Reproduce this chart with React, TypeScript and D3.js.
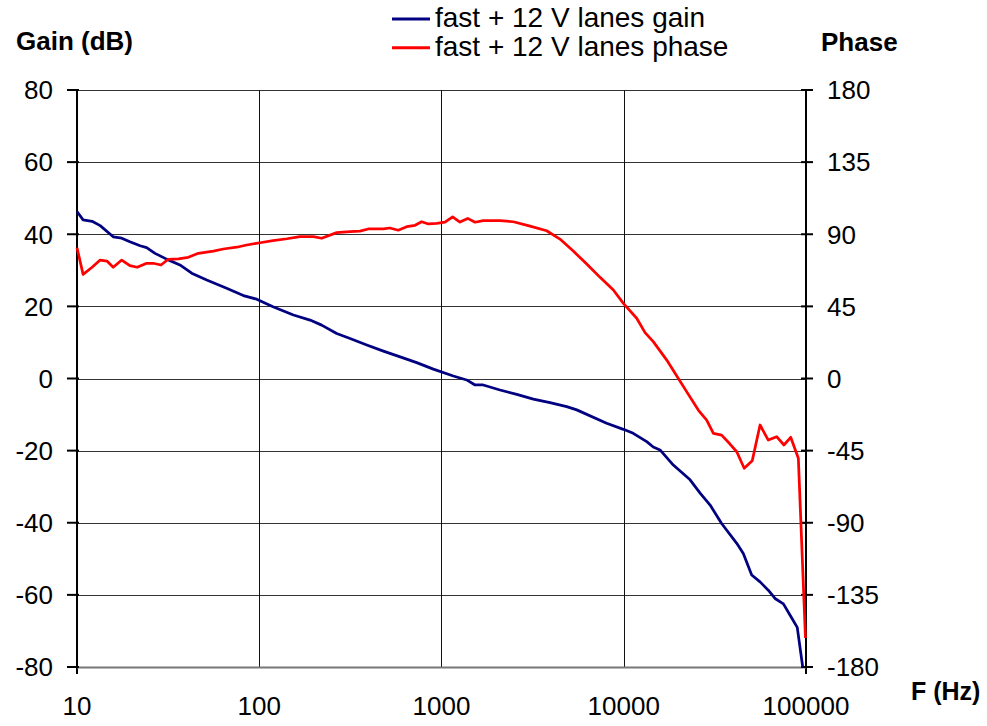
import React from "react";
import * as d3 from "d3";

const gainFreq = [10, 10.8, 12.1, 13.4, 15.8, 17.6, 19.5, 22.2, 24.1, 26.8, 31.0, 36.7, 42.6, 51.5, 66.2, 81.8, 96.8, 119, 154, 190, 220, 266, 315, 389, 480, 593, 731, 902, 1161, 1374, 1528, 1694, 2094, 2588, 3192, 3936, 4864, 5521, 8054, 9954, 11272, 13366, 14521, 15812, 18707, 23121, 26242, 29785, 34435, 41687, 45290, 50350, 55976, 62087, 67608, 75162, 81658, 89536, 95940];
const gainDb = [46.3, 44.0, 43.6, 42.4, 39.3, 38.9, 37.9, 36.8, 36.3, 34.7, 33.1, 31.5, 29.2, 27.3, 25.0, 23.0, 22.0, 19.9, 17.6, 16.2, 14.8, 12.5, 11.1, 9.3, 7.6, 6.0, 4.4, 2.6, 0.7, -0.4, -1.8, -1.8, -3.2, -4.4, -5.7, -6.7, -7.8, -8.7, -12.4, -14.1, -15.2, -17.5, -19.0, -19.8, -24.0, -28.1, -31.8, -35.1, -40.2, -45.7, -48.5, -54.5, -56.4, -58.7, -61.0, -62.5, -65.6, -69.0, -80.0];

const phaseFreq = [10, 10.8, 12.1, 13.4, 14.6, 15.8, 17.6, 19.5, 21.4, 24.1, 26.2, 28.9, 31.7, 36.0, 40.8, 46.3, 56.0, 63.5, 75.2, 85.3, 101, 119, 142, 167, 198, 220, 266, 315, 357, 396, 480, 521, 579, 644, 716, 778, 847, 942, 1045, 1151, 1262, 1393, 1528, 1694, 2094, 2477, 3062, 3776, 4467, 5284, 6266, 7413, 8770, 9954, 11776, 13092, 14521, 17219, 19543, 22131, 25645, 28510, 31046, 34435, 38282, 41687, 45814, 50699, 55976, 62087, 69024, 75683, 82414, 90782, 99312];
const phaseDeg = [81.6, 65.0, 69.4, 73.9, 73.3, 69.4, 73.9, 70.4, 69.4, 71.9, 71.9, 70.8, 74.4, 74.7, 75.6, 78.1, 79.5, 80.8, 81.9, 83.3, 84.7, 86.0, 87.2, 88.5, 88.5, 87.5, 91.0, 91.6, 92.0, 93.3, 93.3, 93.9, 92.5, 94.7, 95.6, 97.8, 96.4, 96.8, 97.5, 100.8, 97.6, 99.9, 97.5, 98.5, 98.5, 97.8, 95.1, 92.2, 87.0, 79.5, 71.4, 63.1, 55.2, 46.9, 37.6, 28.6, 23.0, 11.5, 1.6, -8.2, -19.7, -25.9, -34.2, -35.3, -40.9, -45.7, -56.0, -51.3, -29.0, -38.4, -36.3, -41.5, -36.7, -49.8, -161.9];

const freqTicks = [10, 100, 1000, 10000, 100000];
const gainTicks = [80, 60, 40, 20, 0, -20, -40, -60, -80];
const phaseTicks = [180, 135, 90, 45, 0, -45, -90, -135, -180];

const seriesNames = ["fast + 12 V lanes gain", "fast + 12 V lanes phase"];
const seriesColors = ["#000080", "#ff0000"];

export default function App() {
  const left = 77, right = 806, top = 90, bottom = 667;
  const x = d3.scaleLog().domain([10, 100000]).range([left, right]);
  const yG = d3.scaleLinear().domain([-80, 80]).range([bottom, top]);
  const yP = d3.scaleLinear().domain([-180, 180]).range([bottom, top]);

  const gainLine = d3.line<number>().x((_, i) => x(gainFreq[i])).y((d) => yG(d));
  const phaseLine = d3.line<number>().x((_, i) => x(phaseFreq[i])).y((d) => yP(d));

  const font = "'Liberation Sans', Arial, sans-serif";
  const tickFs = 26;

  return (
    <div style={{ position: "absolute", left: 0, top: 0 }}>
      <svg width={987} height={726} style={{ display: "block", background: "#fff" }} fontFamily={font}>
        {/* horizontal grid */}
        {gainTicks.map((t) => (
          <line key={"hg" + t} x1={left} x2={right} y1={Math.round(yG(t)) + 0.5} y2={Math.round(yG(t)) + 0.5} stroke="#333" strokeWidth={1} />
        ))}
        {/* vertical grid */}
        {freqTicks.map((t) => (
          <line key={"vg" + t} x1={Math.round(x(t)) + 0.5} x2={Math.round(x(t)) + 0.5} y1={top} y2={bottom} stroke="#111" strokeWidth={1} />
        ))}
        {/* axes */}
        <line x1={left} x2={left} y1={top} y2={bottom + 7} stroke="#000" strokeWidth={2} />
        <line x1={right} x2={right} y1={top} y2={bottom + 7} stroke="#000" strokeWidth={2} />
        <line x1={left} x2={right} y1={bottom + 0.5} y2={bottom + 0.5} stroke="#777" strokeWidth={2} />
        {gainTicks.map((t) => (
          <g key={"lt" + t}>
            <line x1={left - 10} x2={left + 2} y1={yG(t)} y2={yG(t)} stroke="#000" strokeWidth={2} />
            <text x={53} y={yG(t)} dy="0.36em" textAnchor="end" fontSize={tickFs}>{t}</text>
          </g>
        ))}
        {phaseTicks.map((t) => (
          <g key={"rt" + t}>
            <line x1={right - 5} x2={right + 7} y1={yP(t)} y2={yP(t)} stroke="#000" strokeWidth={2} />
            <text x={827} y={yP(t)} dy="0.36em" textAnchor="start" fontSize={tickFs}>{t}</text>
          </g>
        ))}
        {freqTicks.map((t) => (
          <text key={"xt" + t} x={x(t)} y={715} textAnchor="middle" fontSize={tickFs}>{t}</text>
        ))}
        {/* series */}
        <path d={gainLine(gainDb) || ""} fill="none" stroke={seriesColors[0]} strokeWidth={2.75} strokeLinejoin="round" />
        <path d={phaseLine(phaseDeg) || ""} fill="none" stroke={seriesColors[1]} strokeWidth={2.75} strokeLinejoin="round" />
        {/* axis titles */}
        <text x={16} y={50} fontSize={26} fontWeight="bold">Gain (dB)</text>
        <text x={821} y={51} fontSize={26} fontWeight="bold">Phase</text>
        <text x={911} y={700} fontSize={25} fontWeight="bold">F (Hz)</text>
        {/* legend */}
        {seriesNames.map((n, i) => (
          <g key={n}>
            <line x1={392} x2={430} y1={19 + i * 28.7} y2={19 + i * 28.7} stroke={seriesColors[i]} strokeWidth={3} />
            <text x={435} y={27 + i * 28.7} fontSize={28}>{n}</text>
          </g>
        ))}
      </svg>
    </div>
  );
}
